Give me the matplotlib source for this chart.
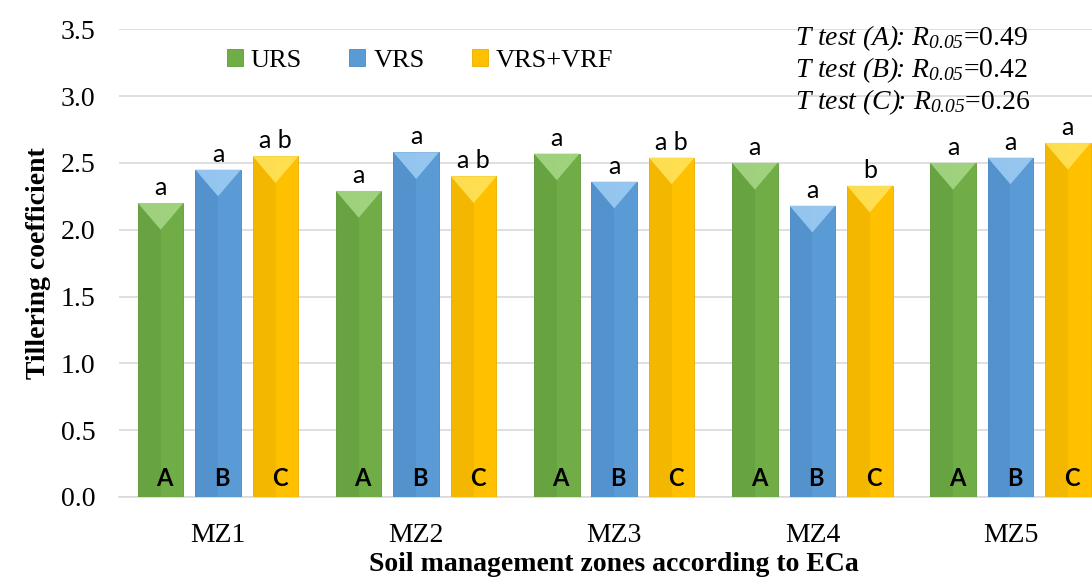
import matplotlib
matplotlib.use("Agg")
import matplotlib.pyplot as plt
from matplotlib.patches import Polygon, Rectangle
import numpy as np

zones = ["MZ1", "MZ2", "MZ3", "MZ4", "MZ5"]
series = ["URS", "VRS", "VRS+VRF"]
urs = [2.20, 2.29, 2.57, 2.50, 2.50]
vrs = [2.45, 2.58, 2.36, 2.18, 2.54]
vrf = [2.55, 2.40, 2.54, 2.33, 2.65]
sig_urs = ["a", "a", "a", "a", "a"]
sig_vrs = ["a", "a", "a", "a", "a"]
sig_vrf = ["a b", "a b", "a b", "b", "a"]
group_tags = ["A", "B", "C"]
ttests = [("A", "0.49"), ("B", "0.42"), ("C", "0.26")]

colors = ["#70AD47", "#5B9BD5", "#FFC000"]
dark = ["#5E9A3A", "#4A88C2", "#E8AE00"]
light = ["#A6D684", "#9CCBF2", "#FFE35A"]

plt.rcParams["font.family"] = "Liberation Serif"
plt.rcParams["mathtext.fontset"] = "custom"
# whole T-test label is italic, parentheses and digits too
plt.rcParams["mathtext.rm"] = "Liberation Serif:italic"
plt.rcParams["mathtext.it"] = "Liberation Serif:italic"

fig = plt.figure(figsize=(10.92, 5.86), dpi=100)
ax = fig.add_axes([0.109, 0.152, 0.907, 0.798])

x = np.arange(len(zones))
w = 0.23
step = 0.29
data = [urs, vrs, vrf]
sigs = [sig_urs, sig_vrs, sig_vrf]

for i, (vals, sg) in enumerate(zip(data, sigs)):
    xs = x + (i - 1) * step
    bars = ax.bar(xs, vals, w, color=colors[i], edgecolor=dark[i], linewidth=0.6,
                  zorder=3, label=series[i])
    for b, v, s in zip(bars, vals, sg):
        x0 = b.get_x()
        # left shade for the bevel look
        ax.add_patch(Rectangle((x0, 0), w * 0.5, v, facecolor=dark[i], alpha=0.45,
                               linewidth=0, zorder=3.5))
        # top triangle highlight
        ax.add_patch(Polygon([(x0, v), (x0 + w, v), (x0 + w / 2, v - 0.2)],
                             closed=True, facecolor=light[i], edgecolor="none",
                             alpha=0.9, zorder=4))
        ax.text(x0 + w / 2, v + 0.03, s, ha="center", va="bottom",
                fontsize=18, family="Lato", zorder=5)
        ax.text(x0 + w / 2 + 0.02, 0.085, group_tags[i], ha="center", va="baseline",
                fontsize=17, fontweight="bold", family="Lato", zorder=5)

ax.set_xlim(-0.5, 4.5)
ax.set_ylim(0, 3.5)
ax.set_yticks(np.arange(0, 3.51, 0.5))
ax.set_yticklabels([f"{t:.1f}" for t in np.arange(0, 3.51, 0.5)])
ax.set_xticks(x)
ax.set_xticklabels(zones)
ax.tick_params(axis="both", labelsize=20, length=0)
ax.tick_params(axis="x", pad=19)
ax.tick_params(axis="y", pad=17)
ax.yaxis.grid(True, color="#D9D9D9", linewidth=1.2, zorder=0)
ax.set_axisbelow(True)
for sp in ["top", "right", "left"]:
    ax.spines[sp].set_visible(False)
ax.spines["bottom"].set_color("#D9D9D9")
ax.spines["bottom"].set_linewidth(1.2)

ax.set_ylabel("Tillering coefficient", fontsize=20, fontweight="bold", labelpad=7)
ax.set_xlabel("Soil management zones according to ECa", fontsize=20,
              fontweight="bold", labelpad=3)

ax.legend(loc="upper left", bbox_to_anchor=(0.085, 1.008), ncol=3, frameon=False,
          fontsize=19, handlelength=0.6, handleheight=0.6, columnspacing=1.8,
          handletextpad=0.3)

for k, (g, r) in enumerate(ttests):
    fig.text(0.728, 0.935 - k * 0.055,
             r"$T\ test\ (%s)\!\!{:}\,R_{0.05}$=%s" % (g, r),
             fontsize=20, ha="left", va="center")

fig.savefig("out.png", dpi=100)
